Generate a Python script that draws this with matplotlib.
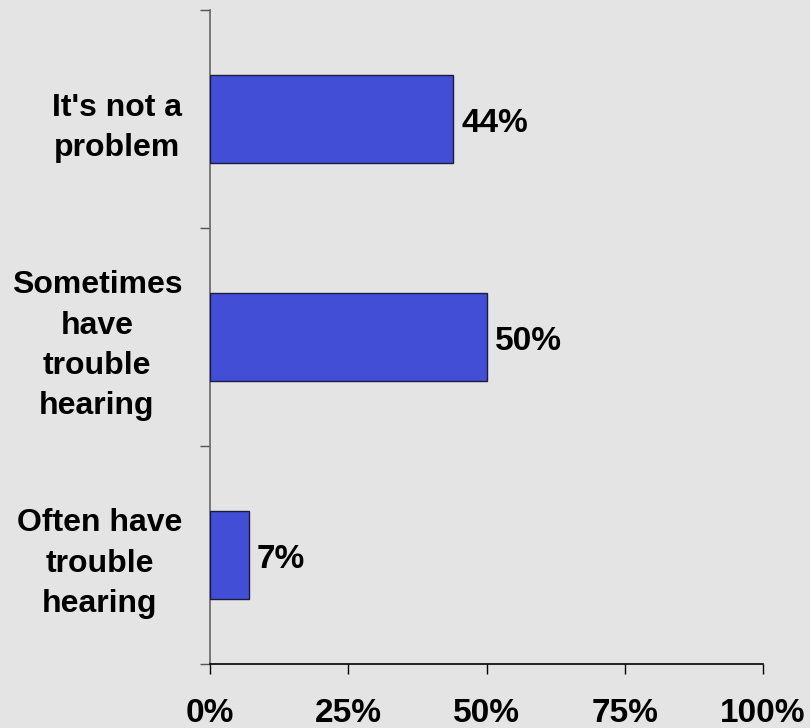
import matplotlib
matplotlib.use("Agg")
import matplotlib.pyplot as plt

categories = ["It's not a\nproblem", "Sometimes\nhave\ntrouble\nhearing", "Often have\ntrouble\nhearing"]
values = [44, 50, 7]
xticks = [0, 25, 50, 75, 100]
xtick_labels = ["0%", "25%", "50%", "75%", "100%"]

plt.rcParams['font.family'] = ['Liberation Sans', 'DejaVu Sans']
bg = '#e4e4e4'
fig = plt.figure(figsize=(8.1, 7.28), dpi=100, facecolor=bg)
ax = fig.add_axes([210/810, (728-664)/728, (763-210)/810, (664-10)/728])
ax.set_facecolor(bg)

n = len(categories)
ypos = list(range(n))
ax.barh(ypos, values, height=0.40, color='#424ed6', edgecolor='#1c1c40', linewidth=1.0, zorder=3)
ax.set_xlim(0, 100)
ax.set_ylim(n - 0.5, -0.5)

for y, v in zip(ypos, values):
    ax.annotate(f"{v}%", xy=(v, y), xytext=(6, -1), textcoords='offset points',
                va='center_baseline', ha='left', fontsize=24, fontweight='bold', color='black')

ax.set_yticks([i - 0.5 for i in range(n + 1)])
ax.set_yticklabels([])
ax.set_yticks(ypos, minor=True)
ax.set_yticklabels(categories, minor=True, fontsize=23, fontweight='bold', ha='right',
                   multialignment='center', linespacing=1.45)
ax.tick_params(axis='y', which='minor', length=0, pad=20)
ax.tick_params(axis='y', which='major', length=7.5, width=1, color='#555555', direction='out')

ax.set_xticks(xticks)
ax.set_xticklabels(xtick_labels, fontsize=24, fontweight='bold')
ax.tick_params(axis='x', length=7.5, width=1, color='black', direction='out', pad=17)

for s in ['top', 'right']:
    ax.spines[s].set_visible(False)
ax.spines['left'].set_color('#666666')
ax.spines['left'].set_linewidth(1.2)
ax.spines['bottom'].set_color('black')
ax.spines['bottom'].set_linewidth(1.2)

fig.savefig('out.png', dpi=100, facecolor=bg)
